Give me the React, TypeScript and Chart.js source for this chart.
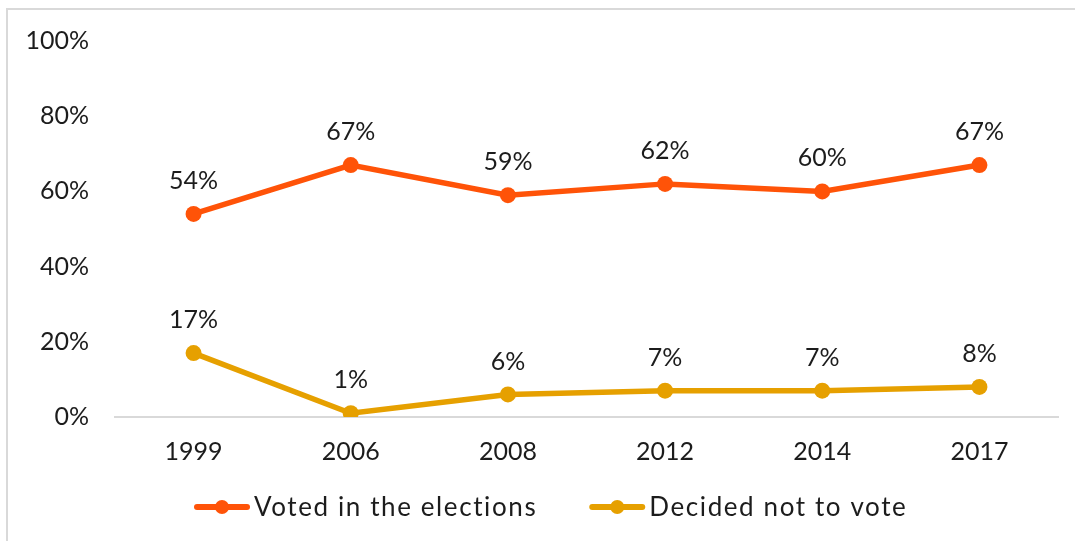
import { useEffect, useRef } from "react";
import { Chart, registerables } from "chart.js";

Chart.register(...registerables);

const years = ["1999", "2006", "2008", "2012", "2014", "2017"];
const votedValues = [54, 67, 59, 62, 60, 67];
const notVotedValues = [17, 1, 6, 7, 7, 8];
const yTickValues = [0, 20, 40, 60, 80, 100];
const seriesNames = ["Voted in the elections", "Decided not to vote"];
const seriesColors = ["#FF5308", "#E6A000"];

const textColor = "#1c1c1c";
const mainFont = "Lato, 'Open Sans', sans-serif";

// Light frame along the left and top edges
const framePlugin = {
  id: "frame",
  beforeDraw(chart: Chart) {
    const { ctx, width, height } = chart;
    ctx.save();
    ctx.fillStyle = "#ffffff";
    ctx.fillRect(0, 0, width, height);
    ctx.strokeStyle = "#d9d9d9";
    ctx.lineWidth = 2;
    ctx.beginPath();
    ctx.moveTo(7, height);
    ctx.lineTo(7, 9);
    ctx.lineTo(width, 9);
    ctx.stroke();
    ctx.restore();
  },
};

// Percent labels above each point
const valueLabelPlugin = {
  id: "valueLabels",
  afterDatasetsDraw(chart: Chart) {
    const { ctx } = chart;
    ctx.save();
    ctx.font = `25px ${mainFont}`;
    ctx.fillStyle = textColor;
    ctx.textAlign = "center";
    ctx.textBaseline = "middle";
    chart.data.datasets.forEach((ds, i) => {
      const meta = chart.getDatasetMeta(i);
      meta.data.forEach((pt, j) => {
        ctx.fillText(`${ds.data[j]}%`, pt.x, pt.y - 33);
      });
    });
    ctx.restore();
  },
};

// Legend with a line-and-dot marker for each series
const lineLegendPlugin = {
  id: "lineLegend",
  afterDraw(chart: Chart) {
    const { ctx } = chart;
    ctx.save();
    ctx.font = `26px ${mainFont}`;
    (ctx as any).letterSpacing = "1.6px";
    ctx.textBaseline = "middle";
    ctx.textAlign = "left";
    let x = 194;
    const y = 507;
    chart.data.datasets.forEach((ds) => {
      const color = ds.borderColor as string;
      ctx.strokeStyle = color;
      ctx.lineWidth = 6;
      ctx.lineCap = "round";
      ctx.beginPath();
      ctx.moveTo(x + 3, y);
      ctx.lineTo(x + 53, y);
      ctx.stroke();
      ctx.fillStyle = color;
      ctx.beginPath();
      ctx.arc(x + 28, y, 7, 0, Math.PI * 2);
      ctx.fill();
      ctx.fillStyle = textColor;
      const label = ds.label as string;
      ctx.fillText(label, x + 60, y + 1);
      x += 60 + ctx.measureText(label).width + 52;
    });
    ctx.restore();
  },
};

export default function App() {
  const canvasRef = useRef<HTMLCanvasElement | null>(null);

  useEffect(() => {
    if (!canvasRef.current) return;
    const series = [votedValues, notVotedValues];
    const chart = new Chart(canvasRef.current, {
      type: "line",
      data: {
        labels: years,
        datasets: series.map((values, i) => ({
          label: seriesNames[i],
          data: values,
          borderColor: seriesColors[i],
          backgroundColor: seriesColors[i],
          borderWidth: 5.5,
          pointRadius: 8,
          pointBorderWidth: 0,
          pointBackgroundColor: seriesColors[i],
          tension: 0,
        })),
      },
      options: {
        responsive: false,
        animation: false,
        devicePixelRatio: 1,
        layout: { padding: { left: 0, right: 17, top: 39, bottom: 0 } },
        plugins: {
          legend: { display: false },
          tooltip: { enabled: false },
        },
        scales: {
          x: {
            type: "category",
            offset: true,
            grid: { display: false, drawTicks: false },
            border: { display: true, color: "#d9d9d9", width: 2 },
            ticks: {
              color: textColor,
              font: { family: mainFont, size: 25 },
              padding: 20,
              maxRotation: 0,
            },
            afterFit(scale: any) {
              scale.height = 124;
            },
          },
          y: {
            min: 0,
            max: 100,
            grid: { display: false, drawTicks: false },
            border: { display: false },
            ticks: {
              color: textColor,
              font: { family: mainFont, size: 25 },
              padding: 26,
              callback: (v: any) => `${v}%`,
            },
            afterBuildTicks(scale: any) {
              scale.ticks = yTickValues.map((v) => ({ value: v }));
            },
            afterFit(scale: any) {
              scale.width = 115;
            },
          },
        },
      },
      plugins: [framePlugin, valueLabelPlugin, lineLegendPlugin],
    });
    return () => chart.destroy();
  }, []);

  return (
    <div style={{ position: "fixed", left: 0, top: 0, width: 1075, height: 541 }}>
      <canvas ref={canvasRef} width={1075} height={541} />
    </div>
  );
}
